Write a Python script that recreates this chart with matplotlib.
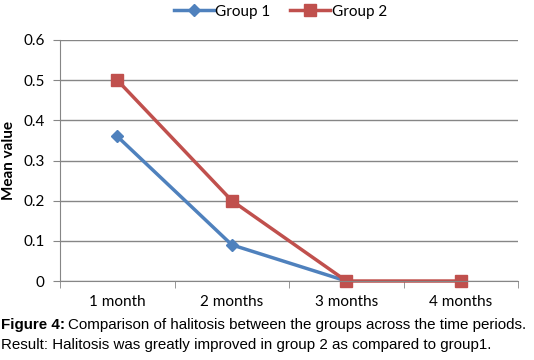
import matplotlib
matplotlib.use('Agg')
import matplotlib.pyplot as plt
import numpy as np

months = ['1 month', '2 months', '3 months', '4 months']
group1 = [0.36, 0.09, 0.0, np.nan]
group2 = [0.5, 0.2, 0.0, 0.0]
yticks = [0, 0.1, 0.2, 0.3, 0.4, 0.5, 0.6]

blue = '#4F81BD'
red = '#C0504D'
grid = '#868686'

plt.rcParams['font.family'] = ['Lato', 'DejaVu Sans']

fig = plt.figure(figsize=(5.34, 3.6), dpi=100)
ax = fig.add_axes([0.1124, 0.2194, 0.858, 0.6695])

x = np.arange(len(months))
ax.plot(x, group1, color=blue, lw=2.5, marker='D', ms=6, label='Group 1', clip_on=False)
ax.plot(x, group2, color=red, lw=2.5, marker='s', ms=8, label='Group 2', clip_on=False)

ax.set_xlim(-0.5, 3.5)
ax.set_ylim(0, 0.6)
ax.set_yticks(yticks)
ax.set_yticklabels(['0'] + [f'{v:.1f}' for v in yticks[1:]], fontsize=11)
ax.set_xticks(x)
ax.set_xticklabels(months, fontsize=11)
ax.set_xticks([-0.5, 0.5, 1.5, 2.5, 3.5], minor=True)
ax.tick_params(axis='x', which='major', length=0, pad=10)
ax.tick_params(axis='x', which='minor', length=5, color=grid)
ax.tick_params(axis='y', length=5, color=grid, pad=6)
ax.grid(axis='y', color=grid, lw=1)
ax.set_axisbelow(True)
for s in ['top', 'right']:
    ax.spines[s].set_visible(False)
ax.spines['left'].set_color(grid)
ax.spines['bottom'].set_color(grid)
ax.set_ylabel('Mean value', fontsize=11, fontweight='bold', labelpad=5)

fig.legend(loc='upper center', bbox_to_anchor=(0.525, 1.025), ncol=2, frameon=False,
           fontsize=11, handlelength=2.6, columnspacing=1.3, handletextpad=0.1)

cap = dict(family=['Liberation Sans', 'DejaVu Sans'], fontsize=10.9)
t1 = fig.text(0.002, 0.085, 'Figure 4:', fontweight='bold', **cap)
fig.canvas.draw()
bb = t1.get_window_extent()
x2 = bb.x1 / fig.bbox.width + 0.005
fig.text(x2, 0.085, 'Comparison of halitosis between the groups across the time periods.', **cap)
fig.text(0.002, 0.03, 'Result: Halitosis was greatly improved in group 2 as compared to group1.', **cap)

fig.savefig('out.png', dpi=100)
